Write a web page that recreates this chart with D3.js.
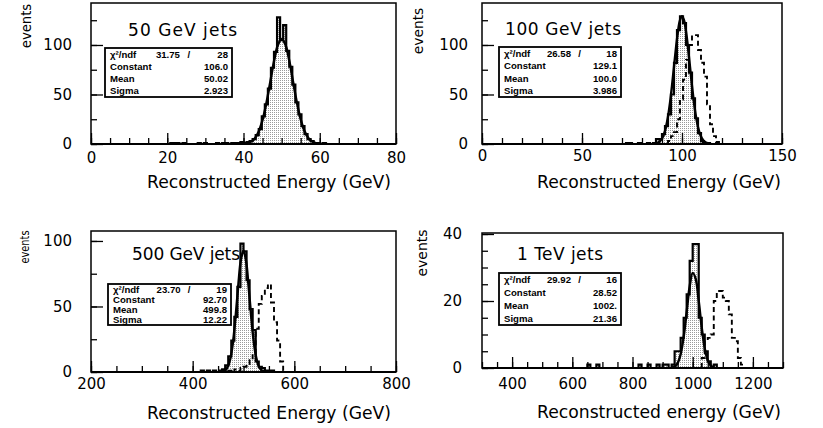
<!DOCTYPE html>
<html><head><meta charset="utf-8">
<script src="https://cdn.jsdelivr.net/npm/d3@7/dist/d3.min.js"></script>
<style>
body{margin:0;background:#fff;}
svg{display:block;background:#fff;}
</style></head><body>
<svg id="c" width="823" height="428"></svg>
<script>
// ---------------- data ----------------
const titles = ["50 GeV jets", "100 GeV jets", "500 GeV jets", "1 TeV jets"];
const xTitles = ["Reconstructed Energy (GeV)", "Reconstructed Energy (GeV)", "Reconstructed Energy (GeV)", "Reconstructed energy (GeV)"];
const yTitle = "events";
const statLabels = ["\u03c7\u00b2/ndf", "Constant", "Mean", "Sigma"];

// panel 1 : 50 GeV
const p1XDomain = [0, 80], p1YDomain = [0, 142.4];
const p1XTicks = [0, 20, 40, 60, 80], p1YTicks = [0, 50, 100];
const p1Stats = ["31.75", "28", "106.0", "50.02", "2.923"];
const p1SolidStart = 20, p1BinWidth = 0.8;
const p1SolidCounts = [0,1,1,1,0,1,0,0,0,0,1,0,1,0,0,0,1,0,1,1,0,1,1,1,2,1,2,3,5,9,15,28,40,56,77,93,128,105,120,94,78,60,42,30,18,10,5,3,1,1,0,1,0];
const p1FitX = [38,39,40,41,42,43,44,45,46,47,48,49,50,51,52,53,54,55,56,57,58,59,60,61,62];
const p1FitY = [0.02,0.09,0.30,0.91,2.46,5.92,12.7,24.3,41.2,62.2,83.5,99.7,106.0,100.2,84.3,63.0,41.9,24.8,13.1,6.1,2.55,0.95,0.31,0.09,0.02];

// panel 2 : 100 GeV
const p2XDomain = [0, 150], p2YDomain = [0, 142.4];
const p2XTicks = [0, 50, 100, 150], p2YTicks = [0, 50, 100];
const p2Stats = ["26.58", "18", "129.1", "100.0", "3.986"];
const p2SolidStart = 60, p2BinWidth = 1.5;
const p2SolidCounts = [0,0,0,0,0,0,0,0,1,1,0,0,1,0,0,1,0,1,5,5,10,18,30,50,82,115,129,122,100,72,46,26,11,3,1,1,0];
const p2DashStart = 93;
const p2DashCounts = [3,8,12,25,45,65,85,100,110,110,95,82,68,40,20,8,2,0];
const p2FitX = [86,87,88,89,90,91,92,93,94,95,96,97,98,99,100,101,102,103,104,105,106,107,108,109,110,111,112,113,114];
const p2FitY = [0.27,0.63,1.39,2.87,5.55,10.1,17.2,27.6,41.6,58.8,78.0,97.2,113.8,125.1,129.1,125.1,113.8,97.2,78.0,58.8,41.6,27.6,17.2,10.1,5.55,2.87,1.39,0.63,0.27];

// panel 3 : 500 GeV
const p3XDomain = [200, 800], p3YDomain = [0, 107.6];
const p3XTicks = [200, 400, 600, 800], p3YTicks = [0, 50, 100];
const p3Stats = ["23.70", "19", "92.70", "499.8", "12.22"];
const p3SolidStart = 404, p3BinWidth = 6;
const p3SolidCounts = [0,0,1,0,1,0,1,0,1,2,5,12,24,42,65,98,92,70,48,32,8,4,3,1,0,1,0];
const p3DashStart = 470;
const p3DashCounts = [1,0,2,1,3,4,6,9,14,33,52,58,64,67,53,38,24,8,1,0];
const p3FitX = [450,455,460,465,470,475,480,485,490,495,500,505,510,515,520,525,530,535,540,545,550];
const p3FitY = [0.02,0.11,0.46,1.61,4.74,11.8,24.9,44.5,67.2,85.8,92.7,84.7,65.4,42.8,23.6,11.1,4.37,1.46,0.41,0.10,0.02];

// panel 4 : 1 TeV
const p4XDomain = [300, 1300], p4YDomain = [0, 40.3];
const p4XTicks = [400, 600, 800, 1000, 1200], p4YTicks = [0, 20, 40];
const p4Stats = ["29.92", "16", "28.52", "1002.", "21.36"];
const p4SolidStart = 600, p4BinWidth = 10;
const p4SolidCounts = [0,0,0,0,0,1,0,0,1,0,0,0,0,0,0,0,0,0,0,0,0,0,1,0,0,1,0,0,1,0,1,1,0,1,5,5,9,15,22,32,37,37,15,10,5,2,0,1,0];
const p4DashStart = 1030;
const p4DashCounts = [3,8,9,10,20,23,23,21,20,16,9,8,3,1,0];
const p4FitX = [930,940,950,960,970,980,990,1000,1010,1020,1030,1040,1050,1060,1070];
const p4FitY = [0.10,0.42,1.47,4.13,9.29,16.8,24.4,28.4,26.6,20.0,12.1,5.86,2.28,0.71,0.18];

// ---------------- layout ----------------
const layout = [
  {left:91, right:396, top:3, bottom:144, xPad:8, yPad:19, xMinorStep:5, yMinorStep:25,
   yLab:{x:31,y:26,size:13.2,len:null}, title:{x:128,y:36,len:109}, xt:{x:147,y:188}, box:{x:105,y:48,w:127,h:49}},
  {left:482, right:782, top:3, bottom:144, xPad:6, yPad:14, xMinorStep:10, yMinorStep:25,
   yLab:{x:423,y:31,size:13.8,len:null}, title:{x:505,y:35,len:116}, xt:{x:537,y:188}, box:{x:499,y:47,w:122,h:50}},
  {left:91, right:396, top:231, bottom:372, xPad:6, yPad:19, xMinorStep:50, yMinorStep:25,
   yLab:{x:29,y:247,size:12.5,len:33}, title:{x:132,y:260,len:108}, xt:{x:147,y:419}, box:{x:108,y:284,w:123,h:41}},
  {left:482, right:783, top:233, bottom:368, xPad:10, yPad:20, xMinorStep:50, yMinorStep:5,
   yLab:{x:427,y:253,size:14,len:null}, title:{x:517,y:260,len:86}, xt:{x:537,y:418}, box:{x:499,y:273,w:122,h:52}}
];

const panels = [
  {xDomain:p1XDomain, yDomain:p1YDomain, xTicks:p1XTicks, yTicks:p1YTicks, stats:p1Stats,
   solid:[p1SolidStart,p1BinWidth,p1SolidCounts], dashed:null, fit:[p1FitX,p1FitY]},
  {xDomain:p2XDomain, yDomain:p2YDomain, xTicks:p2XTicks, yTicks:p2YTicks, stats:p2Stats,
   solid:[p2SolidStart,p2BinWidth,p2SolidCounts], dashed:[p2DashStart,p2BinWidth,p2DashCounts], fit:[p2FitX,p2FitY]},
  {xDomain:p3XDomain, yDomain:p3YDomain, xTicks:p3XTicks, yTicks:p3YTicks, stats:p3Stats,
   solid:[p3SolidStart,p3BinWidth,p3SolidCounts], dashed:[p3DashStart,p3BinWidth,p3DashCounts], fit:[p3FitX,p3FitY]},
  {xDomain:p4XDomain, yDomain:p4YDomain, xTicks:p4XTicks, yTicks:p4YTicks, stats:p4Stats,
   solid:[p4SolidStart,p4BinWidth,p4SolidCounts], dashed:[p4DashStart,p4BinWidth,p4DashCounts], fit:[p4FitX,p4FitY]}
];

// ---------------- drawing ----------------
const svg = d3.select("#c");
const defs = svg.append("defs");
const pat = defs.append("pattern").attr("id","stip").attr("width",2).attr("height",2).attr("patternUnits","userSpaceOnUse");
pat.append("rect").attr("width",2).attr("height",2).attr("fill","#fff");
pat.append("rect").attr("width",1).attr("height",1).attr("fill","#9a9a9a");

const FONT = "'DejaVu Sans', sans-serif";

function stepPoints(start, w, counts){
  const pts = [[start, 0]];
  counts.forEach((c, i) => { pts.push([start + i*w, c]); pts.push([start + (i+1)*w, c]); });
  pts.push([start + counts.length*w, 0]);
  return pts;
}

panels.forEach((p, i) => {
  const L = layout[i];
  const x = d3.scaleLinear().domain(p.xDomain).range([L.left, L.right]);
  const y = d3.scaleLinear().domain(p.yDomain).range([L.bottom, L.top]);
  const g = svg.append("g");

  const clipId = "clip" + i;
  defs.append("clipPath").attr("id", clipId).append("rect")
    .attr("x", L.left).attr("y", L.top).attr("width", L.right - L.left).attr("height", L.bottom - L.top);
  const plot = g.append("g").attr("clip-path", `url(#${clipId})`);

  const line = d3.line().x(d => x(d[0])).y(d => y(d[1]));
  const area = d3.area().x(d => x(d[0])).y0(y(0)).y1(d => y(d[1]));
  const sp = stepPoints(...p.solid);

  plot.append("path").datum(sp).attr("d", area).attr("fill", "url(#stip)");
  if (p.dashed) {
    plot.append("path").datum(stepPoints(...p.dashed)).attr("d", line)
      .attr("fill","none").attr("stroke","#000").attr("stroke-width",1.9).attr("stroke-dasharray","5,3.5");
  }
  plot.append("path").datum(d3.zip(p.fit[0], p.fit[1]))
    .attr("d", d3.line().x(d => x(d[0])).y(d => y(d[1])).curve(d3.curveCatmullRom))
    .attr("fill","none").attr("stroke","#000").attr("stroke-width",2.4);
  plot.append("path").datum(sp).attr("d", line)
    .attr("fill","none").attr("stroke","#000").attr("stroke-width",2.2).attr("stroke-linejoin","miter");

  // axes (ticks inward)
  const xMinorVals = d3.range(p.xDomain[0], p.xDomain[1] + 1e-9, L.xMinorStep);
  const yMinorVals = d3.range(0, p.yDomain[1], L.yMinorStep);
  const styleAxis = sel => {
    sel.select(".domain").remove();
    sel.selectAll("line").attr("stroke","#000").attr("stroke-width",1.3);
    sel.selectAll("text").attr("font-family", FONT).attr("font-size", 15).attr("fill","#000");
  };
  g.append("g").attr("transform", `translate(0,${L.bottom})`)
    .call(d3.axisBottom(x).tickValues(xMinorVals).tickSize(-6).tickFormat("")).call(styleAxis);
  g.append("g").attr("transform", `translate(0,${L.bottom})`)
    .call(d3.axisBottom(x).tickValues(p.xTicks).tickSize(-11).tickPadding(L.xPad).tickFormat(d3.format("d"))).call(styleAxis);
  g.append("g").attr("transform", `translate(${L.left},0)`)
    .call(d3.axisLeft(y).tickValues(yMinorVals).tickSize(-6).tickFormat("")).call(styleAxis);
  g.append("g").attr("transform", `translate(${L.left},0)`)
    .call(d3.axisLeft(y).tickValues(p.yTicks).tickSize(-12).tickPadding(L.yPad).tickFormat(d3.format("d"))).call(styleAxis);

  // frame
  g.append("rect").attr("x", L.left).attr("y", L.top).attr("width", L.right - L.left).attr("height", L.bottom - L.top)
    .attr("fill","none").attr("stroke","#000").attr("stroke-width",1.5);
  g.append("line").attr("x1", L.left).attr("x2", L.right).attr("y1", L.bottom).attr("y2", L.bottom)
    .attr("stroke","#000").attr("stroke-width",2);

  // titles
  g.append("text").attr("x", L.title.x).attr("y", L.title.y).attr("font-family", FONT).attr("font-size", 17)
    .attr("textLength", L.title.len).attr("lengthAdjust","spacing").text(titles[i]);
  g.append("text").attr("x", L.xt.x).attr("y", L.xt.y).attr("font-family", FONT).attr("font-size", 17)
    .attr("textLength", 244).attr("lengthAdjust","spacingAndGlyphs").text(xTitles[i]);
  const yl = g.append("text").attr("transform", `translate(${L.yLab.x},${L.yLab.y}) rotate(-90)`)
    .attr("text-anchor","middle").attr("font-family", FONT).attr("font-size", L.yLab.size)
    .text(yTitle);
  if (L.yLab.len) yl.attr("textLength", L.yLab.len).attr("lengthAdjust","spacingAndGlyphs");

  // stats box
  const B = L.box;
  g.append("rect").attr("x", B.x).attr("y", B.y).attr("width", B.w).attr("height", B.h)
    .attr("fill","#fff").attr("stroke","#000").attr("stroke-width",1.8);
  const rowY = k => B.y + B.h * (k + 0.5) / 4 + 3.4;
  const sf = {family:"'Liberation Sans', Arial, sans-serif", size:9.6};
  const txt = (tx, ty, s, anchor) => g.append("text").attr("x", tx).attr("y", ty)
    .attr("font-family", sf.family).attr("font-size", sf.size).attr("font-weight","bold")
    .attr("text-anchor", anchor).text(s);
  statLabels.forEach((lab, k) => txt(B.x + 5, rowY(k), lab, "start"));
  txt(B.x + B.w * 0.59, rowY(0), p.stats[0], "end");
  txt(B.x + B.w * 0.66, rowY(0), "/", "middle");
  txt(B.x + B.w - 4, rowY(0), p.stats[1], "end");
  txt(B.x + B.w - 4, rowY(1), p.stats[2], "end");
  txt(B.x + B.w - 4, rowY(2), p.stats[3], "end");
  txt(B.x + B.w - 4, rowY(3), p.stats[4], "end");
});
</script>
</body></html>
